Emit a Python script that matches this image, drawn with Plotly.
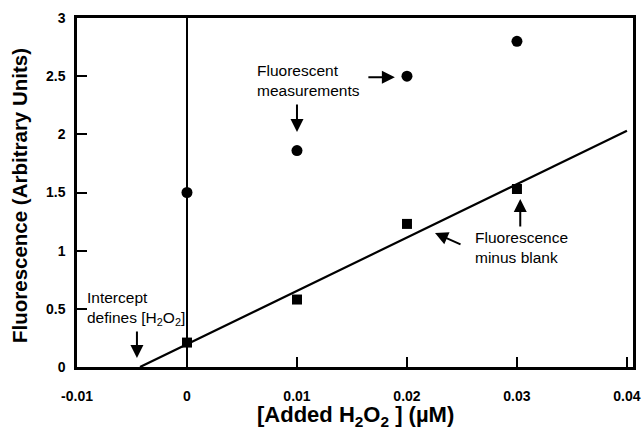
import plotly.graph_objects as go

# Data
added_h2o2 = [0.0, 0.01, 0.02, 0.03]
fluorescence = [1.5, 1.86, 2.5, 2.8]
minus_blank = [0.21, 0.58, 1.23, 1.53]
fit_x = [-0.00427, 0.0400]
fit_y = [0.0, 2.03]
x_ticks = [-0.01, 0, 0.01, 0.02, 0.03, 0.04]
x_labels = ["-0.01", "0", "0.01", "0.02", "0.03", "0.04"]
y_ticks = [0, 0.5, 1, 1.5, 2, 2.5, 3]
y_labels = ["0", "0.5", "1", "1.5", "2", "2.5", "3"]

FONT = "Liberation Sans, Arial, Helvetica, sans-serif"

fig = go.Figure()
fig.add_trace(go.Scatter(x=fit_x, y=fit_y, mode="lines",
                         line=dict(color="black", width=2.2), showlegend=False))
fig.add_trace(go.Scatter(x=added_h2o2, y=fluorescence, mode="markers",
                         marker=dict(symbol="circle", size=11, color="black"), showlegend=False))
fig.add_trace(go.Scatter(x=added_h2o2, y=minus_blank, mode="markers",
                         marker=dict(symbol="square", size=10, color="black"), showlegend=False))

ann_font = dict(family=FONT, size=15.5, color="black")
annotations = [
    dict(x=0.00618, y=2.467, xref="x", yref="y", text="Fluorescent<br>measurements",
         showarrow=False, xanchor="left", yanchor="middle", align="left", font=ann_font),
    dict(x=0.026, y=1.023, xref="x", yref="y", text="Fluorescence<br>minus blank",
         showarrow=False, xanchor="left", yanchor="middle", align="left", font=ann_font),
    dict(x=-0.00927, y=0.50, xref="x", yref="y", text="Intercept<br>defines [H<sub>2</sub>O<sub>2</sub>]",
         showarrow=False, xanchor="left", yanchor="middle", align="left", font=ann_font),
    # axis titles
    dict(x=0.5, y=-0.14, xref="paper", yref="paper", showarrow=False,
         xanchor="center", yanchor="middle",
         text="<b>[Added H<sub>2</sub>O<sub>2</sub> ] (µM)</b>",
         font=dict(family=FONT, size=22, color="black")),
    dict(x=-0.1025, y=0.49, xref="paper", yref="paper", showarrow=False,
         xanchor="center", yanchor="middle", textangle=-90,
         text="<b>Fluorescence (Arbitrary Units)</b>",
         font=dict(family=FONT, size=20.5, color="black")),
]
arrows = [
    (0.0100, 2.02, 0, -29),
    (0.0189, 2.49, -28, 0),
    (0.02255, 1.152, 27, 12),
    (0.0303, 1.444, 0, 29),
    (-0.00455, 0.077, 0, -28),
]
for (ax_, ay_, dx, dy) in arrows:
    annotations.append(dict(x=ax_, y=ay_, xref="x", yref="y", text="", showarrow=True,
                            ax=dx, ay=dy, arrowhead=2, arrowsize=1.3, arrowwidth=2,
                            arrowcolor="black"))

fig.update_layout(
    width=643, height=431,
    margin=dict(l=77, r=10, t=18, b=64),
    plot_bgcolor="white", paper_bgcolor="white",
    font=dict(family=FONT, color="black"),
    annotations=annotations,
    xaxis=dict(range=[-0.01, 0.04055], tickvals=x_ticks, ticktext=x_labels,
               ticks="inside", ticklen=10, tickwidth=2, tickcolor="black",
               showline=True, linewidth=2.5, linecolor="black", mirror=True,
               showgrid=False, zeroline=True, zerolinecolor="black", zerolinewidth=2,
               tickfont=dict(family=FONT, size=14, color="black", weight="bold"),
               ticklabelstandoff=14, ticklabeloverflow="allow", automargin=False),
    yaxis=dict(range=[0, 3], tickvals=y_ticks, ticktext=y_labels,
               ticks="inside", ticklen=10, tickwidth=2, tickcolor="black",
               showline=True, linewidth=2.5, linecolor="black", mirror=True,
               showgrid=False, zeroline=False,
               tickfont=dict(family=FONT, size=14, color="black", weight="bold"),
               ticklabelstandoff=6, automargin=False),
)

fig.write_html("out.html")
